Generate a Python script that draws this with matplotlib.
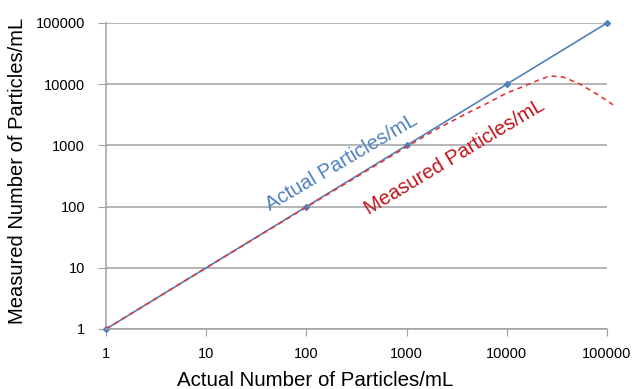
import matplotlib.pyplot as plt
from matplotlib.ticker import FixedLocator, FixedFormatter

plt.rcParams['font.family'] = ['Liberation Sans', 'DejaVu Sans']

# actual particles (reference line y = x), markers only at these points
actual_x = [1, 100, 1000, 10000, 100000]
actual_y = [1, 100, 1000, 10000, 100000]

# measured particles
meas_x = [1, 10, 100, 1000, 2000, 4300, 6800, 10000, 14500, 20000, 27000,
          36500, 54000, 72000, 100000, 115000]
meas_y = [1, 10, 98, 950, 1850, 3550, 5150, 7200, 9100, 11400, 13650,
          13100, 10000, 7550, 5400, 4600]

ticks = [1, 10, 100, 1000, 10000, 100000]
tick_labels = ['1', '10', '100', '1000', '10000', '100000']

fig = plt.figure(figsize=(6.36, 3.89), dpi=100)
ax = fig.add_axes([106 / 636, 60 / 389, 501 / 636, 306 / 389])

ax.plot(actual_x, actual_y, color='#4F81BD', lw=1.2, marker='D', ms=3,
        zorder=3, clip_on=False)
ax.plot(meas_x, meas_y, color='#E0393B', lw=1.2, ls=(0, (3, 2.5)), zorder=4,
        clip_on=False)

ax.set_xscale('log')
ax.set_yscale('log')
ax.set_xlim(1, 100000)
ax.set_ylim(1, 100000)

for axis in (ax.xaxis, ax.yaxis):
    axis.set_major_locator(FixedLocator(ticks))
    axis.set_major_formatter(FixedFormatter(tick_labels))
    axis.set_minor_locator(FixedLocator([]))

ax.grid(axis='y', color='#A0A0A0', lw=1.1)
ax.set_axisbelow(True)
for s in ('top', 'right'):
    ax.spines[s].set_visible(False)
for s in ('left', 'bottom'):
    ax.spines[s].set_color('#A0A0A0')
    ax.spines[s].set_linewidth(1.1)
ax.spines['bottom'].set_zorder(5)
ax.tick_params(axis='x', length=5, color='#A0A0A0', labelsize=10.5, pad=8)
ax.tick_params(axis='y', length=6, color='#A0A0A0', labelsize=10.5, pad=9)

ax.set_xlabel('Actual Number of Particles/mL', fontsize=14.8, va='center')
ax.xaxis.set_label_coords((315 - 106) / 501, -(380 - 329) / 306)
ax.set_ylabel('Measured Number of Particles/mL', fontsize=14.5, va='center')
ax.yaxis.set_label_coords(-(106 - 18) / 501, (329 - 171) / 306)

ax.text(342 / 636, 1 - 162 / 389, 'Actual Particles/mL', transform=fig.transFigure,
        color='#4F81BD', fontsize=14.5, rotation=30.5, ha='center', va='center',
        rotation_mode='anchor')
ax.text(455 / 636, 1 - 157 / 389, 'Measured Particles/mL', transform=fig.transFigure,
        color='#C0141A', fontsize=14.5, rotation=31, ha='center', va='center',
        rotation_mode='anchor')

fig.savefig('out.png', dpi=100)
